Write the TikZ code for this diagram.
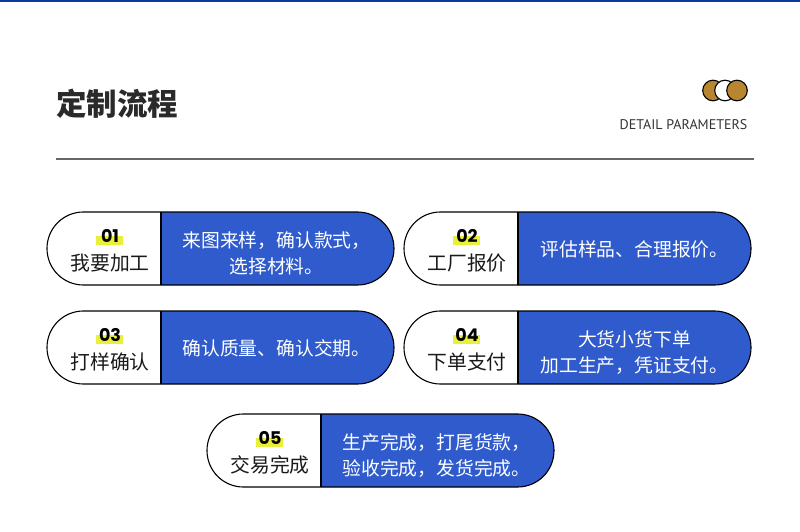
\documentclass[tikz,border=0pt]{standalone}
\usepackage{fontspec}
\setmainfont{Noto Sans CJK SC}
\newfontfamily\numfont{Poppins}
\newfontfamily\latfont{PT Sans}
\definecolor{topblue}{HTML}{0B3A9B}
\definecolor{cardblue}{HTML}{2F5BCC}
\definecolor{hlyellow}{HTML}{E8F03A}
\definecolor{dotbrown}{HTML}{B8862E}
\definecolor{titlegray}{HTML}{2A2A2A}
\definecolor{rulegray}{HTML}{666666}
\tikzset{
  cardline/.style={draw=black,line width=1.1pt},
  numtext/.style={anchor=base,font=\numfont\bfseries\fontsize{17.5}{17.5}\selectfont,text=black,inner sep=0pt},
  labeltext/.style={anchor=base,font=\fontsize{19.8}{19.8}\selectfont,text=black!90,inner sep=0pt},
  bluetext/.style={anchor=base,font=\fontsize{18.8}{18.8}\selectfont,text=white,inner sep=0pt},
}
% #1 x-left, #2 x-divider, #3 x-right, #4 y-centre, #5 id, #6 number, #7 label
\newcommand\stepcard[7]{%
  \fill[white,rounded corners=36.4pt] (#1,#4-36.5) rectangle (#3,#4+36.5);
  \begin{scope}
    \clip (#2,#4-40) rectangle (#3+3,#4+40);
    \fill[cardblue,rounded corners=36.4pt] (#1,#4-36.5) rectangle (#3,#4+36.5);
  \end{scope}
  \draw[cardline,rounded corners=36.4pt] (#1,#4-36.5) rectangle (#3,#4+36.5);
  \draw[cardline] (#2,#4-36.5) -- (#2,#4+36.5);
  \fill[hlyellow] (#2-51-14.5,#4-12.5) rectangle (#2-51+12.5,#4-3.5);
  \node[numtext] (num#5) at (#2-51,#4-6.5) {#6};
  \node[labeltext] (lab#5) at (#2-51,#4+21.8) {#7};
}
\begin{document}
\begin{tikzpicture}[x=1pt,y=-1pt]
\useasboundingbox (0,0) rectangle (800,532);
\fill[white] (0,0) rectangle (800,532);
\fill[topblue] (0,0) rectangle (800,2.5);

% title
\node[anchor=base west,inner sep=0pt,text=titlegray,font=\bfseries\fontsize{30.5}{30.5}\selectfont] (title) at (56,116) {定制流程};
\node[anchor=base east,inner sep=0pt,text=black!80,font=\latfont\fontsize{14}{14}\selectfont] (detail) at (747.5,129.3) {DETAIL PARAMETERS};

% dots
\draw[fill=dotbrown,line width=1.1pt] (713,90.5) circle (10.3);
\draw[fill=white,line width=1.1pt] (725,90.5) circle (10.3);
\draw[fill=dotbrown,line width=1.1pt] (737,90.5) circle (10.3);

% rule
\draw[rulegray,line width=1.2pt] (56,159) -- (754,159);

% cards
\stepcard{47}{161}{394}{248.5}{1}{01}{我要加工}
\node[bluetext] (t1a) at (276.5,240.5+7) {来图来样，确认款式，};
\node[bluetext] (t1b) at (276.5,266.5+7) {选择材料。};

\stepcard{404}{518}{751}{248.5}{2}{02}{工厂报价}
\node[bluetext] (t2a) at (634.5,249.5+7) {评估样品、合理报价。};

\stepcard{47}{161}{394}{347.5}{3}{03}{打样确认}
\node[bluetext] (t3a) at (276.5,348.5+7) {确认质量、确认交期。};

\stepcard{404}{518}{751}{347.5}{4}{04}{下单支付}
\node[bluetext] (t4a) at (634.5,339.5+7) {大货小货下单};
\node[bluetext] (t4b) at (634.5,365.5+7) {加工生产，凭证支付。};

\stepcard{207}{321}{554}{450.5}{5}{05}{交易完成}
\node[bluetext] (t5a) at (436.5,442.5+7) {生产完成，打尾货款，};
\node[bluetext] (t5b) at (436.5,468.5+7) {验收完成，发货完成。};
\end{tikzpicture}
\end{document}
